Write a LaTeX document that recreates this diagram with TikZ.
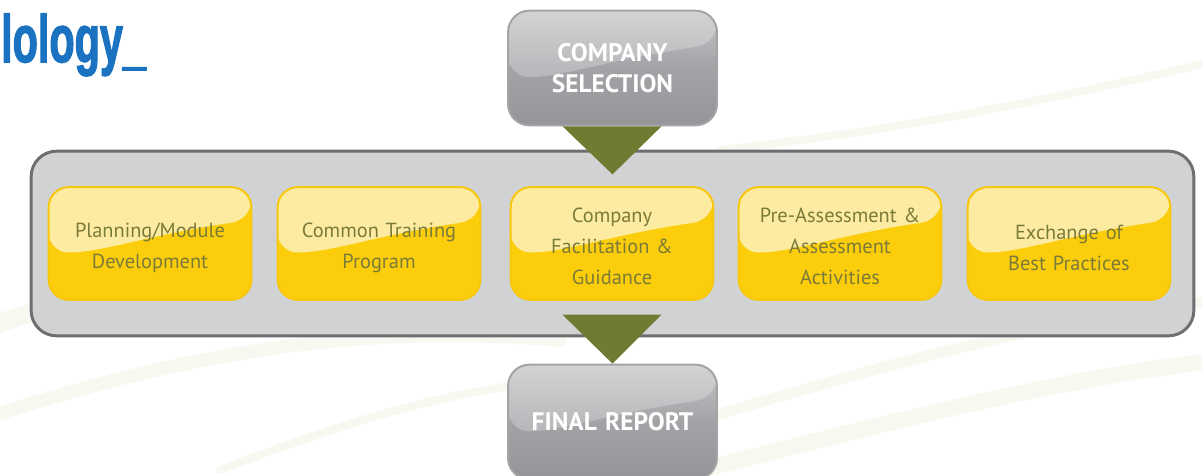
\documentclass[tikz,border=0pt]{standalone}
\usepackage{fontspec}
\setmainfont{PT Sans}
\newfontfamily\headfont[BoldFeatures={FakeBold=2.5}]{Liberation Sans}
\usetikzlibrary{calc}
\definecolor{panelfill}{HTML}{D1D2D4}
\definecolor{paneldraw}{HTML}{6D6E70}
\definecolor{yel}{HTML}{FCCD0A}
\definecolor{yeldraw}{HTML}{F8C70C}
\definecolor{olivetxt}{HTML}{7A7B38}
\definecolor{olive}{HTML}{6E7B31}
\definecolor{graytop}{HTML}{C4C5C7}
\definecolor{graybot}{HTML}{939598}
\definecolor{graydraw}{HTML}{A3A4A6}
\definecolor{headblue}{HTML}{1A72C0}
\definecolor{swoosh}{HTML}{EEF3DF}
\tikzset{
  gloss/.style={path picture={
    \fill[white,opacity=#1]
      (path picture bounding box.north west) -- (path picture bounding box.north east)
      -- ($(path picture bounding box.north east)!0.29!(path picture bounding box.south east)$)
      .. controls ($(path picture bounding box.north)!0.42!(path picture bounding box.south)$) and ($(path picture bounding box.north west)!0.58!(path picture bounding box.south west)+(40pt,0)$) ..
      ($(path picture bounding box.north west)!0.58!(path picture bounding box.south west)$) -- cycle;}},
  stepbox/.style={draw=yeldraw, line width=1.5pt, fill=yel, rounded corners=15pt,
    minimum width=152pt, minimum height=84.5pt, gloss=0.62},
  steptext/.style={text width=150pt, align=center, inner sep=0,
    text=olivetxt, font=\fontsize{15.3}{23.3}\selectfont},
  graybox/.style={draw=graydraw, line width=1.5pt, top color=graytop, bottom color=graybot,
    middle color=graybot!70!graytop, rounded corners=16pt,
    minimum width=151pt, minimum height=86pt, text width=150pt, align=center,
    text=white, font=\bfseries\fontsize{19}{23}\selectfont, gloss=0.25},
  panel/.style={draw=paneldraw, line width=2.2pt, fill=panelfill, rounded corners=19pt,
    minimum width=872pt, minimum height=138.5pt, inner sep=0},
  tri/.style={fill=olive, draw=none}
}
\begin{document}
\begin{tikzpicture}[x=0.75pt,y=-0.75pt]
\useasboundingbox (0,0) rectangle (1202,475);
% background swooshes
\begin{scope}[line cap=round, opacity=0.5]
\draw[swoosh, line width=14pt] (-20,330) .. controls (200,250) and (400,240) .. (560,250);
\draw[swoosh, line width=10pt] (-20,420) .. controls (250,330) and (420,330) .. (560,340);
\draw[swoosh, line width=8pt] (700,420) .. controls (900,360) and (1050,320) .. (1220,300);
\draw[swoosh, line width=12pt] (700,470) .. controls (900,420) and (1050,380) .. (1220,360);
\draw[swoosh, line width=6pt] (720,150) .. controls (900,130) and (1050,100) .. (1220,60);
\draw[swoosh, line width=6pt] (220,470) .. controls (350,420) and (450,390) .. (560,380);
\end{scope}
% heading fragment
\node[anchor=base west, inner sep=0, text=headblue, font=\headfont\bfseries\fontsize{50}{50}\selectfont, xscale=0.62] (head) at (1,62) {lology\_};
% panel
\node[panel] (pan) at (612.5,243.5) {};
% steps
\node[stepbox] (s1) at (150,243.5) {};
\node[stepbox] (s2) at (379,243.5) {};
\node[stepbox] (s3) at (612,243.5) {};
\node[stepbox] (s4) at (840,243.5) {};
\node[stepbox] (s5) at (1069,243.5) {};
\node[steptext] (t1) at ($(s1)+(0,4)$) {Planning/Module\\Development};
\node[steptext] (t2) at ($(s2)+(0,4)$) {Common Training\\Program};
\node[steptext] (t3) at ($(s3)+(0,3)$) {Company\\Facilitation \&\\Guidance};
\node[steptext] (t4) at ($(s4)+(0,3)$) {Pre-Assessment \&\\Assessment\\Activities};
\node[steptext] (t5) at ($(s5)+(0,4)$) {Exchange of\\Best Practices};
% top and bottom boxes
\node[graybox] (sel) at (612.5,68) {COMPANY\\SELECTION};
\node[graybox] (fin) at (612.5,422) {FINAL REPORT};
% arrows
\fill[tri] ($(sel.south)+(-50,0)$) -- ($(sel.south)+(49,0)$) -- ($(sel.south)+(0,48)$) -- cycle;
\fill[tri] ($(fin.north)+(-50,-49)$) -- ($(fin.north)+(49,-49)$) -- (fin.north) -- cycle;
\end{tikzpicture}
\end{document}
